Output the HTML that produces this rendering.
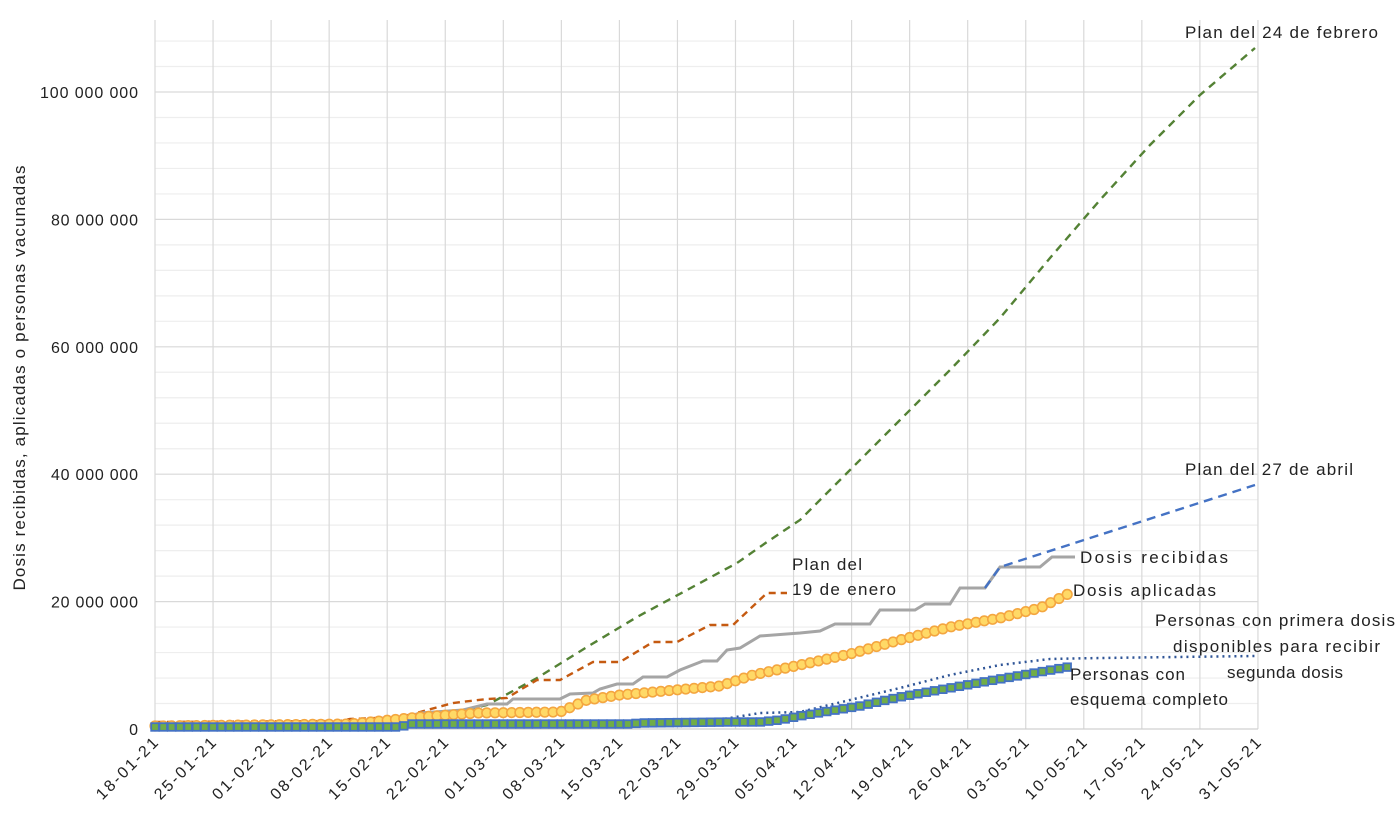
<!DOCTYPE html>
<html><head><meta charset="utf-8"><style>
body{margin:0;background:#fff;width:1400px;height:823px;overflow:hidden}
svg{font-family:"Liberation Sans",sans-serif}
</style></head><body>
<svg id="s" width="1400" height="823" xmlns="http://www.w3.org/2000/svg"></svg>
<script>
const s=document.getElementById('s');let h='';
const X0=155,DX=58.05/7,Y0=729,K=6.37;
const X=d=>X0+d*DX, Y=v=>Y0-v*K;
for(let v=4;v<=108;v+=4){h+=`<line x1="${X0}" x2="1258" y1="${Y(v)}" y2="${Y(v)}" stroke="${v%20==0?'#d9d9d9':'#eeeeee'}" stroke-width="1.2"/>`;}
for(let w=0;w<=19;w++){const x=X(w*7);h+=`<line x1="${x}" x2="${x}" y1="20" y2="${Y0}" stroke="#d9d9d9" stroke-width="1.2"/>`;}
h+=`<line x1="${X0}" x2="1258" y1="${Y0}" y2="${Y0}" stroke="#d0d0d0" stroke-width="1.2"/>`;
for(let v=0;v<=100;v+=20){const t=v==0?'0':v==100?'100 000 000':v+' 000 000';const tl=v==0?'':(v==100?' textLength="98"':' textLength="87"');h+=`<text x="138" y="${Y(v)+6}" text-anchor="end" font-size="16" fill="#222"${tl}>${t}</text>`;}
const dates=['18-01-21','25-01-21','01-02-21','08-02-21','15-02-21','22-02-21','01-03-21','08-03-21','15-03-21','22-03-21','29-03-21','05-04-21','12-04-21','19-04-21','26-04-21','03-05-21','10-05-21','17-05-21','24-05-21','31-05-21'];
dates.forEach((d,i)=>{const x=X(i*7)+4,y=744;h+=`<text transform="translate(${x},${y}) rotate(-45)" text-anchor="end" font-size="16" fill="#222" textLength="80">${d}</text>`;});
h+=`<text transform="translate(25,378) rotate(-90)" text-anchor="middle" font-size="17" fill="#222" textLength="425">Dosis recibidas, aplicadas o personas vacunadas</text>`;
function interp(pts,x){for(let i=0;i<pts.length-1;i++){if(x<=pts[i+1][0]){const a=pts[i],b=pts[i+1];return a[1]+(b[1]-a[1])*(x-a[0])/(b[0]-a[0]);}}return pts[pts.length-1][1];}
const P=pts=>pts.map(p=>p.join(',')).join(' ');
const g=[[440,716],[487,705],[537,678],[587,647],[637,617],[687,590],[737,563],[767,542],[800,520],[850,470],[900,420],[950,370],[1000,318],[1050,258],[1100,200],[1150,145],[1200,95],[1255,48]];
h+=`<polyline points="${P(g)}" fill="none" stroke="#548235" stroke-width="2.4" stroke-dasharray="8,6"/>`;
const b=[[155,722],[340,721],[350,719],[400,717],[420,712],[453,703],[487,699],[507,698],[520,690],[537,680],[560,680],[593,662],[620,662],[653,642],[677,642],[710,625],[733,625],[767,593],[787,593]];
h+=`<polyline points="${P(b)}" fill="none" stroke="#c55a11" stroke-width="2.4" stroke-dasharray="7,5"/>`;
const gr=[[155,725],[370,724],[390,721],[410,716],[420,713],[463,710],[487,704],[507,704],[513,699],[560,699],[570,694],[593,693],[600,689],[617,684],[633,684],[643,677],[667,677],[680,670],[703,661],[717,661],[727,650],[740,648],[760,636],[800,633],[820,631],[835,624],[870,624],[880,610],[915,610],[925,604],[950,604],[960,588],[985,588],[1000,567],[1040,567],[1052,557],[1075,557]];
h+=`<polyline points="${P(gr)}" fill="none" stroke="#a5a5a5" stroke-width="3"/>`;
h+=`<polyline points="985,588 1000,567 1255,485" fill="none" stroke="#4472c4" stroke-width="2.4" stroke-dasharray="9,6"/>`;
const bd=[[155,726],[700,722],[730,718],[760,713],[800,712],[850,700],[900,688],[950,675],[1000,665],[1050,659],[1100,658],[1255,656]];
h+=`<polyline points="${P(bd)}" fill="none" stroke="#2f5597" stroke-width="2.5" stroke-dasharray="2,4"/>`;
const o=[[155,726],[350,724],[420,717],[478,713],[560,712],[587,700],[620,695],[720,686],[753,675],[800,665],[850,654],[900,640],[950,627],[1000,618],[1040,608],[1068,594]];
let op=[];for(let d=0;X(d)<=1069;d++){op.push([X(d),interp(o,X(d))]);}
h+=`<polyline points="${P(op)}" fill="none" stroke="#f4b183" stroke-width="2"/>`;
op.forEach(p=>h+=`<circle cx="${p[0]}" cy="${p[1]}" r="4.8" fill="#ffd966" stroke="#f4a640" stroke-width="1.6"/>`);
const e2=[[155,727],[400,727],[410,724],[630,724],[640,723],[730,722],[760,722],[780,720],[800,716],[860,706],[900,697],[950,688],[1000,679],[1040,672],[1068,667]];
let ep=[];for(let d=0;X(d)<=1069;d++){ep.push([X(d),interp(e2,X(d))]);}
h+=`<polyline points="${P(ep)}" fill="none" stroke="#4472c4" stroke-width="3.5"/>`;
ep.forEach(p=>h+=`<rect x="${p[0]-3.8}" y="${p[1]-3.8}" width="7.6" height="7.6" fill="#70ad47" stroke="#4472c4" stroke-width="1.8"/>`);
const L=(x,y,t,w,a)=>h+=`<text x="${x}" y="${y}" font-size="17" fill="#222" text-anchor="${a||'start'}"${w?` textLength="${w}"`:''}>${t}</text>`;
L(1185,38,'Plan del 24 de febrero',193);L(1185,475,'Plan del 27 de abril',168);
L(792,570,'Plan del',70);L(792,595,'19 de enero',104);
L(1080,563,'Dosis recibidas',148);L(1073,596,'Dosis aplicadas',143);
L(1155,626,'Personas con primera dosis',240);L(1173,652,'disponibles para recibir',207);L(1227,678,'segunda dosis',116);
L(1070,680,'Personas con',115);L(1070,705,'esquema completo',158);
s.innerHTML=h;
</script>
</body></html>
